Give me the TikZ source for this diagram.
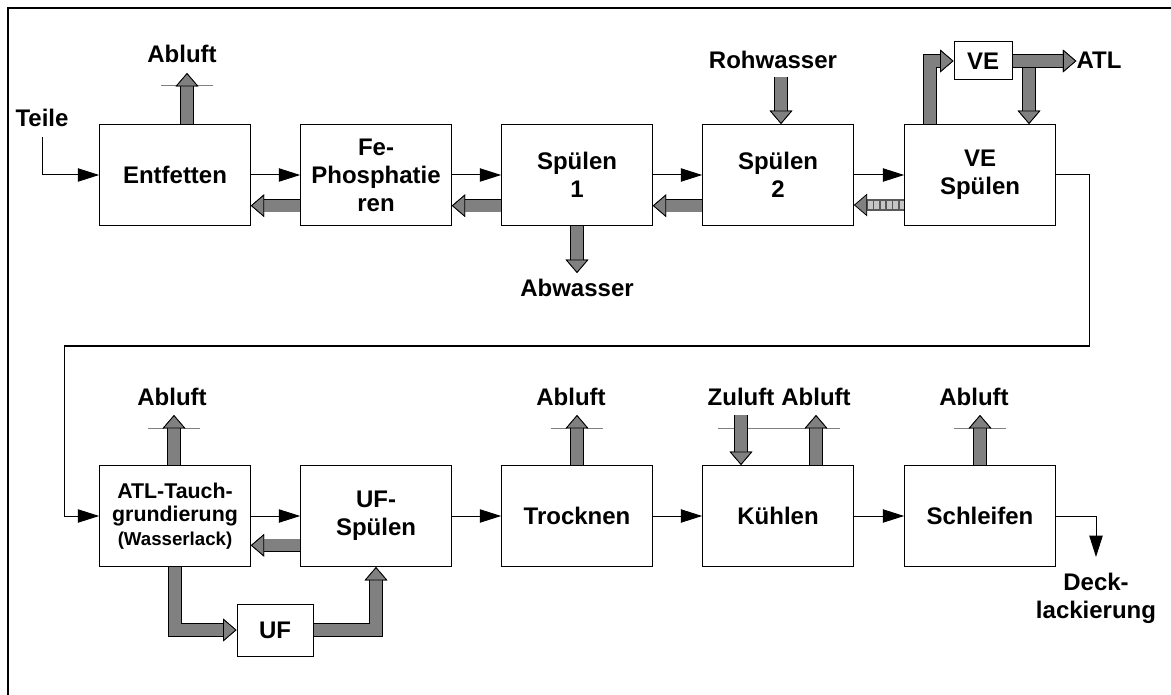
\documentclass[tikz,border=0pt]{standalone}
\usepackage{fontspec}
\setmainfont{Liberation Sans}
\usepackage{tikz}
\usetikzlibrary{arrows.meta,positioning,calc}
\definecolor{pipegray}{RGB}{128,128,128}

\begin{document}
\begin{tikzpicture}[x=0.75pt,y=-0.75pt,font=\fontsize{18}{21}\selectfont\bfseries,
  box/.style={draw,line width=0.75pt,minimum width=113pt,minimum height=75.75pt,inner sep=0pt,align=center},
  lbl/.style={inner sep=0pt,anchor=base},
  roof/.style={draw=pipegray,line width=0.75pt},
  flow/.style={line width=0.75pt,-{Triangle[length=16pt,width=10pt]}},
  pipe/.style={draw=pipegray,line width=9pt,line join=miter,
    -{Triangle[length=10pt,width=17pt,line width=0.6pt,color=black,fill=pipegray]},
    preaction={draw=black,line width=10.2pt,line join=miter,-{Triangle[length=10pt,width=17pt,line width=0.6pt]}}},
  dpipe/.style={draw=black!65,line width=9pt,
    -{Triangle[length=10pt,width=17pt,line width=0.6pt,color=black,fill=pipegray]},
    postaction={draw=gray!45,line width=6pt,dash pattern=on 3.5pt off 1.2pt,shorten >=10pt,-}}]
\useasboundingbox (0,0) rectangle (1171,695);
\draw[line width=1.5pt] (7.5,695) -- (7.5,8.5) -- (1171,8.5);

% first row
\node[box] (ent) at (175,175) {Entfetten};
\node[box] (fe) at (376,175) {Fe-\\Phosphatie\\ren};
\node[box] (sp1) at (577,175) {Spülen\\1};
\node[box] (sp2) at (778,175) {Spülen\\2};
\node[box] (ves) at (980,175) {VE\\Spülen};
\node[box,minimum width=43.5pt,minimum height=28.5pt] (vebox) at (983,61) {VE};

% second row
\node[box,font=\fontsize{16}{17.5}\selectfont\bfseries] (atl) at (175,516) {ATL-Tauch-\\grundierung\\{\fontsize{14}{17}\selectfont(Wasserlack)}};
\node[box] (ufs) at (376,516) {UF-\\Spülen};
\node[box] (tro) at (577,516) {Trocknen};
\node[box] (kue) at (778,516) {Kühlen};
\node[box] (sch) at (980,516) {Schleifen};
\node[box,minimum width=57pt,minimum height=39pt] (uf) at (275,630) {UF};

% labels
\node[lbl] (teile) at (42,127) {Teile};
\node[lbl] (abl1) at (182,63) {Abluft};
\node[lbl] (roh) at (773,69) {Rohwasser};
\node[lbl] (atlx) at (1099,69) {ATL};
\node[lbl] (abw) at (577,297) {Abwasser};
\node[lbl] (abl2) at (172,405) {Abluft};
\node[lbl] (abl3) at (571,405) {Abluft};
\node[lbl] (zul) at (741,405) {Zuluft};
\node[lbl] (abl4) at (816,405) {Abluft};
\node[lbl] (abl5) at (974,405) {Abluft};
\node[lbl,anchor=north,align=center] (deck) at (1096,573) {Deck-\\lackierung};

\coordinate (ex1) at (187,73);
\coordinate (ex2) at (174,415);
\coordinate (ex3) at (577,415);
\coordinate (ex4) at (816,415);
\coordinate (ex5) at (980,415);
\coordinate (zin) at (741,415);
\coordinate (rin) at (781,77);
\coordinate (wout) at (577,273);
\coordinate (vup) at (930,125);
\coordinate (vej) at (1029,61);
\coordinate (rr) at (1089,346);
\coordinate (ll) at (64,346);

% roof lines
\draw[roof] (161,86) -- (177,86) (197,86) -- (213,86);
\draw[roof] (148,428) -- (164,428) (184,428) -- (200,428);
\draw[roof] (551,428) -- (567,428) (587,428) -- (603,428);
\draw[roof] (718,428) -- (806,428) (826,428) -- (840,428);
\draw[roof] (954,428) -- (970,428) (990,428) -- (1006,428);

% parts flow
\draw[flow,shorten <=7.5pt] (teile.south) |- (ent.west);
\draw[flow] (ent.east) -- (fe.west);
\draw[flow] (fe.east) -- (sp1.west);
\draw[flow] (sp1.east) -- (sp2.west);
\draw[flow] (sp2.east) -- (ves.west);
\draw[flow] (ves.east) -| (rr) -- (ll) |- (atl.west);
\draw[flow] (atl.east) -- (ufs.west);
\draw[flow] (ufs.east) -- (tro.west);
\draw[flow] (tro.east) -- (kue.west);
\draw[flow] (kue.east) -- (sch.west);
\draw[flow,shorten >=12pt] (sch.east) -| (deck.north);

% media
\draw[pipe] ([yshift=-23pt]fe.west) -- ([yshift=-23pt]ent.east);
\draw[pipe] ([yshift=-23pt]sp1.west) -- ([yshift=-23pt]fe.east);
\draw[pipe] ([yshift=-23pt]sp2.west) -- ([yshift=-23pt]sp1.east);
\draw[dpipe] ([yshift=-22.5pt]ves.west) -- ([yshift=-22.5pt]sp2.east);
\draw[pipe] ([yshift=-22pt]ufs.west) -- ([yshift=-22pt]atl.east);
\draw[pipe] (ex1 |- ent.north) -- (ex1);
\draw[pipe] (ex2 |- atl.north) -- (ex2);
\draw[pipe] (ex3 |- tro.north) -- (ex3);
\draw[pipe] (zin) -- (zin |- kue.north);
\draw[pipe] (ex4 |- kue.north) -- (ex4);
\draw[pipe] (ex5 |- sch.north) -- (ex5);
\draw[pipe] (rin) -- (rin |- sp2.north);
\draw[pipe] (sp1.south) -- (wout);
\draw[pipe] (vej) -- (vej |- ves.north);
\draw[pipe] (vup |- ves.north) |- (vebox.west);
\draw[pipe] (vebox.east) -- (vebox.east -| atlx.west);
\draw[pipe] (atl.south) |- (uf.west);
\draw[pipe] (uf.east) -| (ufs.south);
\end{tikzpicture}
\end{document}
